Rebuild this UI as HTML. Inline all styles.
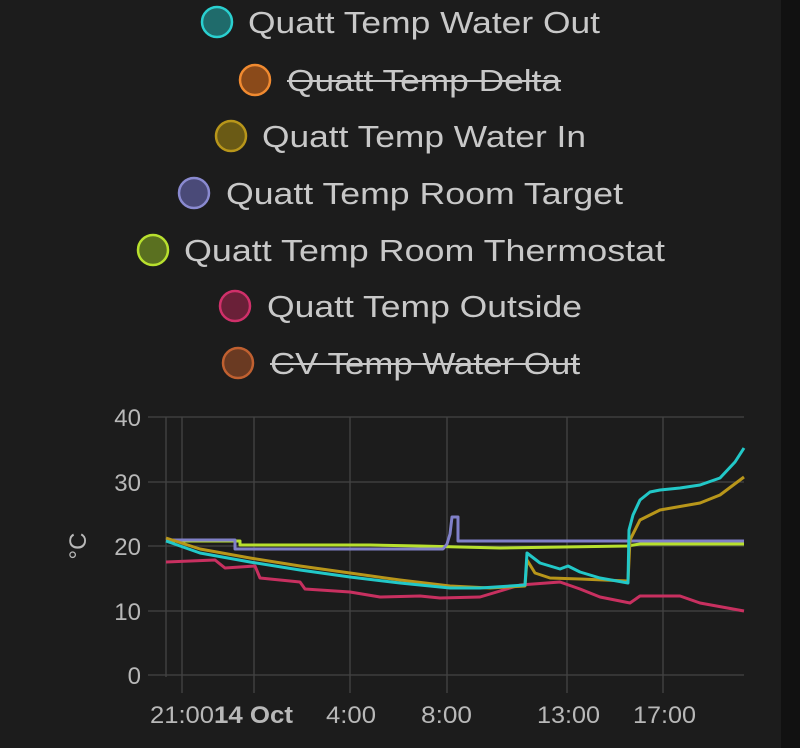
<!DOCTYPE html>
<html><head><meta charset="utf-8"><style>
html,body{margin:0;padding:0;background:#1c1c1c;}
body{width:800px;height:748px;overflow:hidden;position:relative;font-family:"Liberation Sans",sans-serif;}
.strip{position:absolute;left:781px;top:0;width:19px;height:748px;background:#111;}
</style></head><body>
<div class="strip"></div>
<svg width="800" height="748" style="position:absolute;left:0;top:0" font-family="Liberation Sans, sans-serif">
<g font-size="31" fill="#c8c8c8" lengthAdjust="spacingAndGlyphs">
 <circle cx="217" cy="22" r="15" fill="#1f6b6b" stroke="#2ad0d0" stroke-width="2.5"/><text x="248" y="33" textLength="352" lengthAdjust="spacingAndGlyphs">Quatt Temp Water Out</text>
 <circle cx="255" cy="80" r="15" fill="#8a4a1a" stroke="#f08a30" stroke-width="2.5"/><text x="287" y="91" textLength="274" lengthAdjust="spacingAndGlyphs">Quatt Temp Delta</text>
 <line x1="287" y1="81" x2="561" y2="81" stroke="#c8c8c8" stroke-width="2"/>
 <circle cx="231" cy="136" r="15" fill="#6a5a15" stroke="#b8961a" stroke-width="2.5"/><text x="262" y="147" textLength="324" lengthAdjust="spacingAndGlyphs">Quatt Temp Water In</text>
 <circle cx="194" cy="193" r="15" fill="#4a4a78" stroke="#8a8ad0" stroke-width="2.5"/><text x="226" y="204" textLength="397" lengthAdjust="spacingAndGlyphs">Quatt Temp Room Target</text>
 <circle cx="153" cy="250" r="15" fill="#5a7020" stroke="#b8e02e" stroke-width="2.5"/><text x="184" y="261" textLength="481" lengthAdjust="spacingAndGlyphs">Quatt Temp Room Thermostat</text>
 <circle cx="235" cy="306" r="15" fill="#6a2038" stroke="#d0306a" stroke-width="2.5"/><text x="267" y="317" textLength="315" lengthAdjust="spacingAndGlyphs">Quatt Temp Outside</text>
 <circle cx="238" cy="363" r="15" fill="#6a3a22" stroke="#c06030" stroke-width="2.5"/><text x="270" y="374" textLength="310" lengthAdjust="spacingAndGlyphs">CV Temp Water Out</text>
 <line x1="270" y1="364" x2="580" y2="364" stroke="#c8c8c8" stroke-width="2"/>
</g>
<g stroke="#444" stroke-width="1.3">
 <line x1="148" y1="417" x2="744" y2="417"/><line x1="148" y1="482" x2="744" y2="482"/>
 <line x1="148" y1="546" x2="744" y2="546"/><line x1="148" y1="611" x2="744" y2="611"/>
 <line x1="148" y1="675" x2="744" y2="675"/>
 <line x1="166" y1="417" x2="166" y2="677"/>
 <line x1="182" y1="417" x2="182" y2="693"/><line x1="254" y1="417" x2="254" y2="693"/>
 <line x1="350" y1="417" x2="350" y2="693"/><line x1="447" y1="417" x2="447" y2="693"/>
 <line x1="567" y1="417" x2="567" y2="693"/><line x1="663" y1="417" x2="663" y2="693"/>
</g>
<g font-size="24" fill="#b8b8b8" text-anchor="end">
 <text x="141" y="426">40</text><text x="141" y="491">30</text><text x="141" y="555">20</text><text x="141" y="620">10</text><text x="141" y="684">0</text>
</g>
<text x="0" y="0" font-size="24" fill="#b8b8b8" transform="translate(86,546) rotate(-90)" text-anchor="middle">°C</text>
<g font-size="24" fill="#b8b8b8">
 <text x="150" y="723" textLength="64" lengthAdjust="spacingAndGlyphs">21:00</text>
 <text x="214" y="723" font-weight="bold" textLength="79" lengthAdjust="spacingAndGlyphs">14 Oct</text>
 <text x="326" y="723" textLength="50" lengthAdjust="spacingAndGlyphs">4:00</text>
 <text x="421" y="723" textLength="51" lengthAdjust="spacingAndGlyphs">8:00</text>
 <text x="537" y="723" textLength="63" lengthAdjust="spacingAndGlyphs">13:00</text>
 <text x="633" y="723" textLength="63" lengthAdjust="spacingAndGlyphs">17:00</text>
</g>
<g fill="none" stroke-width="3" stroke-linejoin="round">
 <polyline stroke="#c83060" points="166,562 215,560 225,568 255,566 260,578 300,582 305,589 350,592 380,597 420,596 440,598 480,597 520,585 560,582 580,589 600,597 630,603 640,596 680,596 700,603 744,611"/>
 <polyline stroke="#b8e02e" points="166,541 240,541 240,545 370,545 420,546 500,548 627,546 640,544 744,544"/>
 <polyline stroke="#8080c8" points="166,540 235,540 235,549 443,549 447,544 450,534 452,517 458,517 458,541 744,541"/>
 <polyline stroke="#b8961a" points="166,538 200,549 250,558 300,566 350,573 400,580 450,586 490,588 525,586 527,560 535,573 550,578 580,579 628,581 630,540 640,520 660,510 700,503 720,495 744,477"/>
 <polyline stroke="#22c8c8" points="166,541 200,553 250,562 300,570 350,577 400,583 450,588 480,588 525,585 527,553 540,563 560,569 568,566 580,572 600,578 628,583 629,530 633,515 640,500 650,492 660,490 680,488 700,485 720,478 735,462 744,448"/>
</g>
</svg>
</body></html>
